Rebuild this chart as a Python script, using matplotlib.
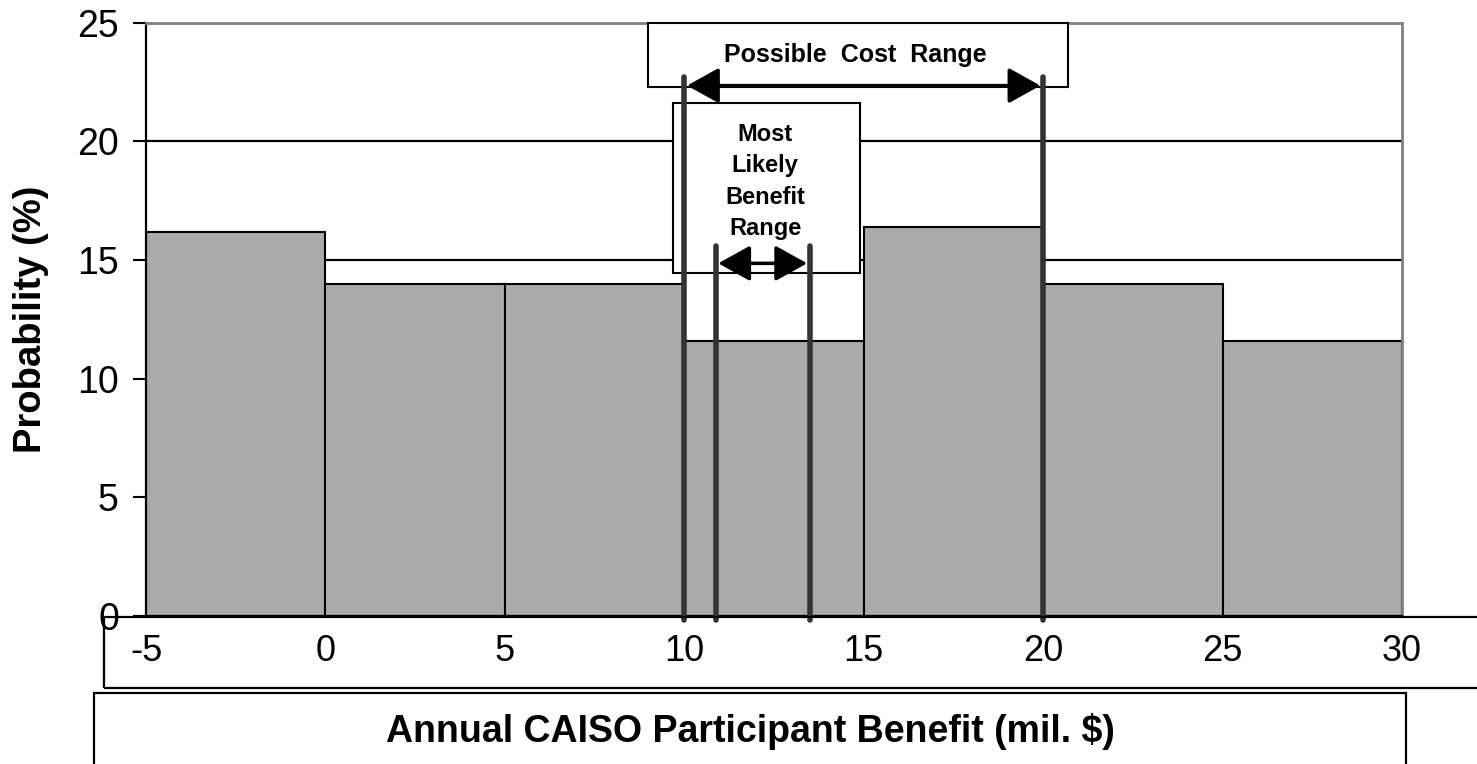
import matplotlib
matplotlib.use("Agg")
import matplotlib.pyplot as plt
from matplotlib.patches import Rectangle, ArrowStyle

plt.rcParams['font.family'] = ['Liberation Sans', 'DejaVu Sans']
plt.rcParams['axes.unicode_minus'] = False

# Histogram of annual benefit outcomes (bins of 5 mil. $)
bin_left = [-5, 0, 5, 10, 15, 20, 25]
bin_width = 5
probability = [16.2, 14.0, 14.0, 11.6, 16.4, 14.0, 11.6]

# Ranges marked on top of the histogram (mil. $)
cost_range = [10, 20]
benefit_range = [10.87, 13.5]

x_ticks = [-5, 0, 5, 10, 15, 20, 25, 30]
y_ticks = [0, 5, 10, 15, 20, 25]

fig = plt.figure(figsize=(14.77, 7.64), dpi=100)
ax = fig.add_axes([146 / 1477, 1 - 616 / 764, (1402 - 146) / 1477, (616 - 22.7) / 764])

ax.bar(bin_left, probability, width=bin_width, align='edge',
       color='#aaaaaa', edgecolor='black', linewidth=1.5, zorder=2)

ax.set_xlim(-5, 30)
ax.set_ylim(0, 25)
ax.set_xticks(x_ticks)
ax.set_yticks(y_ticks)
ax.tick_params(axis='x', length=0, pad=13, labelsize=26)
ax.tick_params(axis='y', length=9.5, width=1.5, pad=10, labelsize=27)

# horizontal gridlines, the top one is grey like the frame
for y in y_ticks[1:-1]:
    ax.axhline(y, color='black', linewidth=1.6, zorder=1)
ax.axhline(25, color='#808080', linewidth=1.6, zorder=1)

for side in ['top', 'right']:
    ax.spines[side].set_color('#808080')
    ax.spines[side].set_linewidth(2)
ax.spines['left'].set_linewidth(1.6)
ax.spines['bottom'].set_linewidth(1.6)

ax.set_ylabel('Probability (%)', fontsize=27.5, fontweight='bold', labelpad=20)

# vertical markers for the cost range and the likely benefit range
for x in cost_range:
    ax.plot([x, x], [-0.15, 22.7], color='#333333', linewidth=4,
            solid_capstyle='round', zorder=4, clip_on=False)
for x in benefit_range:
    ax.plot([x, x], [-0.15, 15.6], color='#333333', linewidth=4,
            solid_capstyle='round', zorder=4, clip_on=False)

# annotation boxes
ax.add_patch(Rectangle((9.0, 22.3), 11.7, 2.7, facecolor='white',
                       edgecolor='black', linewidth=1.5, zorder=3, clip_on=False))
ax.add_patch(Rectangle((9.69, 14.47), 5.21, 7.16, facecolor='white',
                       edgecolor='black', linewidth=1.5, zorder=3))

ax.text(14.76, 23.64, 'Possible  Cost  Range', ha='center', va='center',
        fontsize=18, fontweight='bold', zorder=5)
ax.text(12.25, 18.3, 'Most\nLikely\nBenefit\nRange', ha='center', va='center',
        fontsize=17, fontweight='bold', linespacing=1.47, zorder=5)

style = ArrowStyle('<|-|>', head_length=0.9, head_width=0.5)
ax.annotate('', xy=(cost_range[1], 22.35), xytext=(cost_range[0], 22.35),
            arrowprops=dict(arrowstyle=style, mutation_scale=22, color='black',
                            linewidth=2.5, shrinkA=2, shrinkB=2), zorder=5)
ax.annotate('', xy=(benefit_range[1], 14.86), xytext=(benefit_range[0], 14.86),
            arrowprops=dict(arrowstyle=style, mutation_scale=22, color='black',
                            linewidth=2.5, shrinkA=2, shrinkB=2), zorder=5)

# boxes round the tick labels and the x axis title
fig.patches.append(Rectangle((103.7 / 1477, 1 - 688.3 / 764), 1.1, (688.3 - 616.7) / 764,
                             transform=fig.transFigure, fill=False,
                             edgecolor='black', linewidth=1.6))
fig.patches.append(Rectangle((94 / 1477, -0.05), (1406 - 94) / 1477, 0.05 + 1 - 692.7 / 764,
                             transform=fig.transFigure, fill=False,
                             edgecolor='black', linewidth=1.6))
fig.text(750 / 1477, 1 - 731 / 764, 'Annual CAISO Participant Benefit (mil. $)',
         ha='center', va='center', fontsize=27, fontweight='bold')

fig.savefig('out.png', dpi=100)
